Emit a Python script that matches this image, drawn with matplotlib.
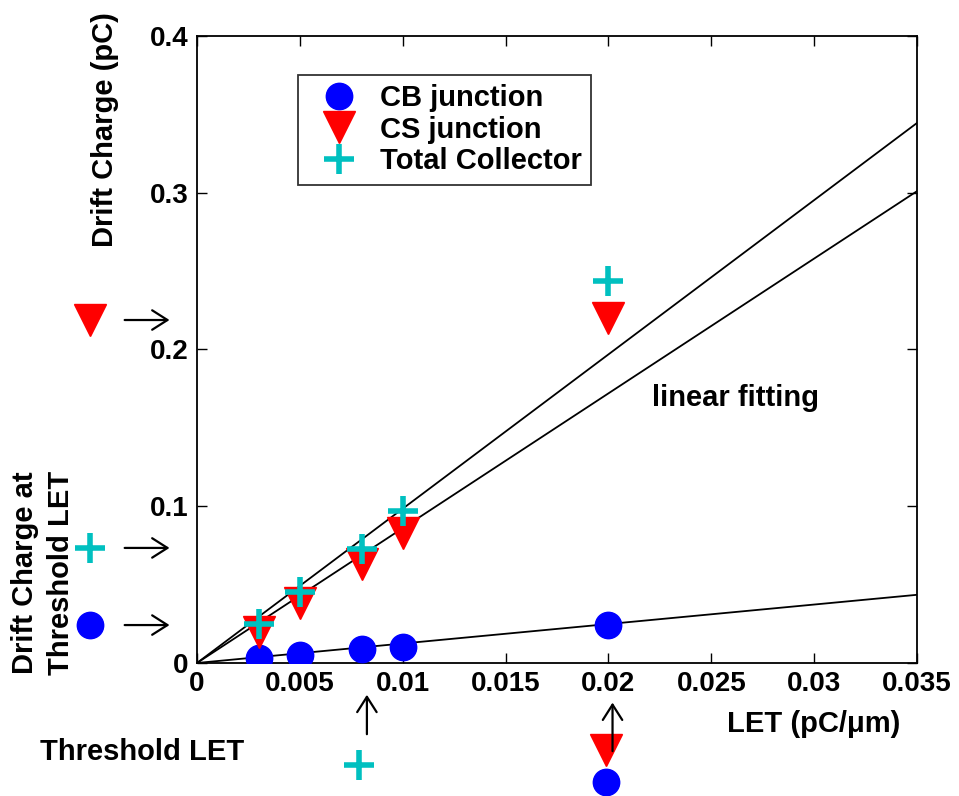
import numpy as np
import matplotlib.pyplot as plt

plt.rcParams['font.family'] = ['Liberation Sans', 'DejaVu Sans']
plt.rcParams['font.weight'] = 'bold'

# measured drift charge (pC) vs LET (pC/um)
let = [0.003, 0.005, 0.008, 0.01, 0.02]
cb_charge = [0.0035, 0.005, 0.009, 0.0105, 0.0245]
cs_charge = [0.020, 0.038, 0.063, 0.083, 0.220]
total_charge = [0.025, 0.045, 0.073, 0.097, 0.244]

# linear fits, end points
fit_x = [0, 0.035]
fit_total = [0, 0.3445]
fit_cs = [0, 0.301]
fit_cb = [0, 0.0435]

# threshold values shown outside the axes
thr_let_total = 0.0079
thr_let_cs = 0.0199
thr_charge_cb = 0.0242
thr_charge_total = 0.0734
thr_charge_cs = 0.2188

blue = '#0000FF'
red = '#FF0000'
cyan = '#00C0C0'

fig = plt.figure(figsize=(9.59, 7.96), dpi=100)
ax = fig.add_axes([0.2054, 0.1671, 0.7508, 0.7877])

for fy in (fit_total, fit_cs, fit_cb):
    ax.plot(fit_x, fy, color='black', lw=1.3, zorder=1)

ax.plot(let, cb_charge, 'o', color=blue, ms=19, mec=blue, label='CB junction', zorder=3)
ax.plot(let, cs_charge, 'v', color=red, ms=23, mec=red, label='CS junction', zorder=3)
ax.plot(let, total_charge, '+', color=cyan, ms=22, mew=4, label='Total Collector', zorder=4)

ax.set_xlim(0, 0.035)
ax.set_ylim(0, 0.4)
ax.set_xticks(np.arange(0, 0.0351, 0.005))
ax.set_xticklabels(['0', '0.005', '0.01', '0.015', '0.02', '0.025', '0.03', '0.035'])
ax.set_yticks([0, 0.1, 0.2, 0.3, 0.4])
ax.set_yticklabels(['0', '0.1', '0.2', '0.3', '0.4'])
ax.tick_params(direction='in', length=7, width=1, top=True, right=True,
               labelsize=20, pad=6)
for t in ax.get_xticklabels() + ax.get_yticklabels():
    t.set_fontweight('bold')
for s in ax.spines.values():
    s.set_linewidth(1.3)

# threshold markers on the charge axis
xl = -0.0052
ax.plot(xl, thr_charge_cb, 'o', color=blue, ms=19, clip_on=False)
ax.plot(xl, thr_charge_total, '+', color=cyan, ms=22, mew=4, clip_on=False)
ax.plot(xl, thr_charge_cs, 'v', color=red, ms=23, clip_on=False)
arrow = dict(arrowstyle='->,head_length=1.1,head_width=0.7', color='black', lw=1.6)
for yv in (thr_charge_cb, thr_charge_total, thr_charge_cs):
    ax.annotate('', xy=(-0.0012, yv), xytext=(-0.00365, yv),
                arrowprops=arrow, annotation_clip=False)

# threshold markers on the LET axis
ax.plot(thr_let_total, -0.0651, '+', color=cyan, ms=22, mew=4, clip_on=False)
ax.plot(thr_let_cs, -0.0555, 'v', color=red, ms=23, clip_on=False)
ax.plot(thr_let_cs, -0.0759, 'o', color=blue, ms=19, clip_on=False)
ax.annotate('', xy=(0.00826, -0.0185), xytext=(0.00826, -0.0472),
            arrowprops=arrow, annotation_clip=False)
ax.annotate('', xy=(0.0202, -0.0235), xytext=(0.0202, -0.058),
            arrowprops=arrow, annotation_clip=False)

ax.text(0.0221, 0.169, 'linear fitting', fontsize=21, fontweight='bold', va='center')

leg = ax.legend(loc='upper left', bbox_to_anchor=(0.1403, 0.938), numpoints=1,
                fontsize=21, frameon=True, fancybox=False, edgecolor='black',
                borderpad=0.32, labelspacing=0.12, handletextpad=0.3,
                handlelength=2.2, borderaxespad=0)
leg.get_frame().set_linewidth(1.3)
for t in leg.get_texts():
    t.set_fontweight('bold')

fig.text(900 / 959, 1 - 724 / 796, 'LET (pC/μm)', fontsize=21, fontweight='bold',
         ha='right', va='center')
fig.text(40 / 959, 1 - 752 / 796, 'Threshold LET', fontsize=21, fontweight='bold',
         ha='left', va='center')
fig.text(105 / 959, 1 - 130 / 796, 'Drift Charge (pC)', fontsize=21, fontweight='bold',
         rotation=90, ha='center', va='center')
fig.text(43 / 959, 1 - 573 / 796, 'Drift Charge at\nThreshold LET', fontsize=21,
         fontweight='bold', rotation=90, ha='center', va='center', linespacing=1.35)

fig.savefig('out.png', dpi=100)
